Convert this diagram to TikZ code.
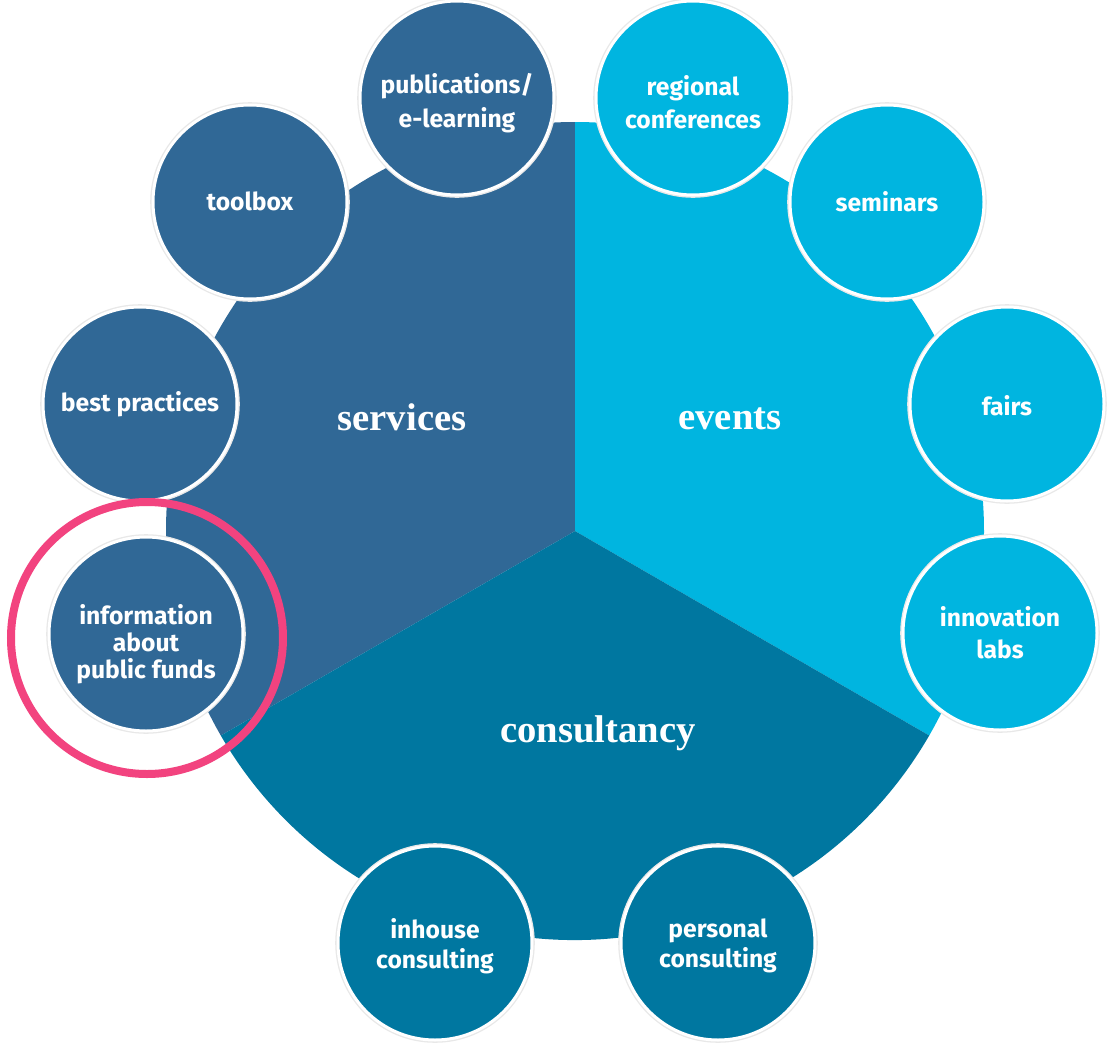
\documentclass[tikz,border=0pt]{standalone}
\usepackage{fontspec}
\setmainfont{Fira Sans}
\newfontfamily\pieserif{Liberation Serif}
\definecolor{svc}{HTML}{306896}
\definecolor{evt}{HTML}{00B5E0}
\definecolor{cns}{HTML}{0077A0}
\definecolor{pinkring}{HTML}{F2437F}
\tikzset{
  sc/.style={circle, minimum size=145.5pt, inner sep=0pt,
    draw=white, line width=2.25pt,
    preaction={draw=black!9, line width=4.2pt}},
  sctext/.style={align=center, inner sep=0pt, text=white,
    font=\bfseries\fontsize{18.5pt}{24pt}\selectfont},
  pielabel/.style={text=white, font=\pieserif\bfseries\fontsize{29pt}{34pt}\selectfont},
}
\begin{document}
\begin{tikzpicture}[x=0.75pt,y=-0.75pt]
\useasboundingbox (0,0) rectangle (1108,1043);
\fill[white] (0,0) rectangle (1108,1043);
\coordinate (C) at (575,531);
% sectors
\fill[svc] (C) -- ++(-90:409) arc[start angle=-90, end angle=-210, radius=409] -- cycle;
\fill[evt] (C) -- ++(-90:409) arc[start angle=-90, end angle=30, radius=409] -- cycle;
\fill[cns] (C) -- ++(30:409) arc[start angle=30, end angle=150, radius=409] -- cycle;
% sector labels
\node[pielabel] (services) at (402,417) {services};
\node[pielabel] (events) at (730,419) {events};
\node[pielabel] (consultancy) at (598,733) {consultancy};
% services circles
\node[sc, fill=svc] (pub) at (457,98) {};
\node[sctext, font=\bfseries\fontsize{18.5pt}{25.5pt}\selectfont] (pub-t) at ([yshift=-3.75pt]pub.center) {publications/\\e-learning};
\node[sc, fill=svc] (toolbox) at (250,202) {};
\node[sctext] (toolbox-t) at ([yshift=0.5pt]toolbox.center) {toolbox};
\node[sc, fill=svc] (best) at (140,404) {};
\node[sctext] (best-t) at (best.center) {best practices};
\node[sc, fill=svc] (info) at (146,634) {};
\node[sctext, font=\bfseries\fontsize{18.5pt}{20.3pt}\selectfont] (info-t) at ([yshift=-7.5pt]info.center) {information\\about\\public funds};
% events circles
\node[sc, fill=evt] (regional) at (693,98) {};
\node[sctext, font=\bfseries\fontsize{18.5pt}{24.8pt}\selectfont] (regional-t) at ([yshift=-3.4pt]regional.center) {regional\\conferences};
\node[sc, fill=evt] (seminars) at (887,202) {};
\node[sctext] (seminars-t) at ([yshift=0.5pt]seminars.center) {seminars};
\node[sc, fill=evt] (fairs) at (1007,404) {};
\node[sctext] (fairs-t) at ([yshift=-1pt]fairs.center) {fairs};
\node[sc, fill=evt] (innov) at (1000,633) {};
\node[sctext] (innov-t) at (innov.center) {innovation\\labs};
% consultancy circles
\node[sc, fill=cns] (inhouse) at (435,943) {};
\node[sctext, font=\bfseries\fontsize{18.5pt}{22.5pt}\selectfont] (inhouse-t) at ([yshift=-2.25pt]inhouse.center) {inhouse\\consulting};
\node[sc, fill=cns] (personal) at (718,943) {};
\node[sctext, font=\bfseries\fontsize{18.5pt}{22.5pt}\selectfont] (personal-t) at ([yshift=-2.25pt]personal.center) {personal\\consulting};
% highlight ring
\node[circle, draw=pinkring, line width=6pt, minimum size=204pt, inner sep=0pt] (ring) at (147,638) {};
\end{tikzpicture}
\end{document}
